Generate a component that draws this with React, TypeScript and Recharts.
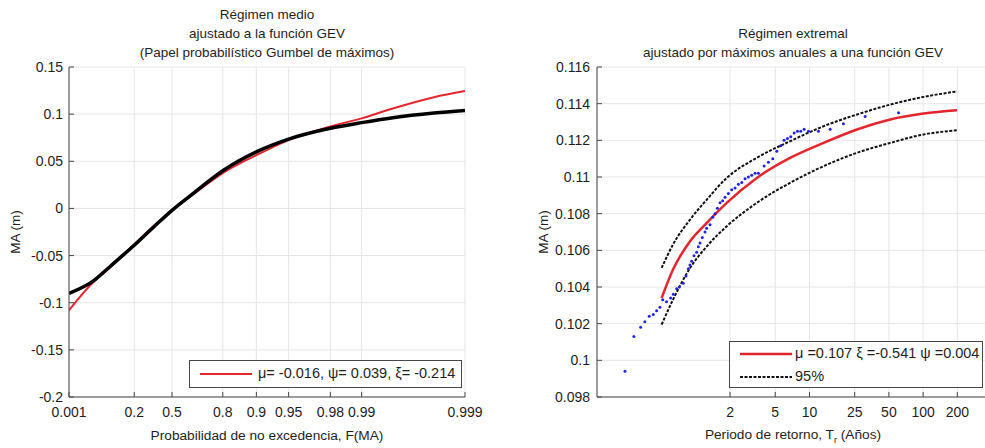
import React from 'react';
import { ComposedChart, Line, Scatter, XAxis, YAxis, CartesianGrid, Legend, Label } from 'recharts';

const FONT = '"Liberation Sans", Arial, Helvetica, sans-serif';
const AXIS = '#474747';
const GRID = '#e6e6e6';
const TEXT = '#1e1e1e';
const RED = '#e3262d';
const BLUE = '#2323e6';

// Régimen medio (papel probabilístico Gumbel)
const probTickLabels = ['0.001', '0.2', '0.5', '0.8', '0.9', '0.95', '0.98', '0.99', '0.999'];
const probF = [0.001, 0.02, 0.05, 0.1, 0.2, 0.35, 0.5, 0.65, 0.8, 0.9, 0.95, 0.98, 0.99, 0.995, 0.998, 0.999];
const empiricalMA = [-0.09, -0.076, -0.065, -0.054, -0.039, -0.02, -0.002, 0.016, 0.04, 0.06, 0.0735, 0.085, 0.091, 0.0962, 0.1012, 0.104];
const gevMA = [-0.108, -0.077, -0.066, -0.054, -0.038, -0.019, -0.002, 0.015, 0.0375, 0.0565, 0.0725, 0.087, 0.0955, 0.106, 0.118, 0.1245];
const medioYTicks = [-0.2, -0.15, -0.1, -0.05, 0, 0.05, 0.1, 0.15];

// Régimen extremal (máximos anuales)
const returnPeriodTicks = [2, 5, 10, 25, 50, 100, 200];
const fitT = [0.5, 0.63, 0.89, 1.25, 1.87, 3.44, 6.75, 13.3, 26.2, 51.4, 101, 199];
const fitMA = [0.1034, 0.10495, 0.1065, 0.1075, 0.10859, 0.10995, 0.11104, 0.11186, 0.11259, 0.11314, 0.11346, 0.11364];
const upperMA = [0.10504, 0.10632, 0.10768, 0.10877, 0.10995, 0.11105, 0.11195, 0.11277, 0.11341, 0.11395, 0.11437, 0.11467];
const lowerMA = [0.10195, 0.10331, 0.10504, 0.10622, 0.10731, 0.10859, 0.10968, 0.11059, 0.11132, 0.11186, 0.11232, 0.11255];
const sampleT = [
  0.238, 0.285, 0.327, 0.356, 0.389, 0.422, 0.452, 0.483, 0.511, 0.553, 0.6, 0.633, 0.678, 0.715, 0.776,
  0.819, 0.859, 0.888, 0.919, 0.963, 1.017, 1.052, 1.088, 1.141, 1.204, 1.245, 1.333, 1.407, 1.475, 1.547,
  1.633, 1.723, 1.807, 1.933, 2.069, 2.214, 2.368, 2.534, 2.712, 2.901, 3.104, 3.321, 3.553, 3.988, 4.354,
  4.753, 5.155, 5.59, 5.981, 6.399, 6.846, 7.326, 7.841, 8.386, 8.974, 9.8, 12, 15.2, 19.9, 30.9, 60.8,
];
const sampleMA = [
  0.0994, 0.1013, 0.1018, 0.1021, 0.1024, 0.1025, 0.1027, 0.1029, 0.1033, 0.1032, 0.1034, 0.1036, 0.1039, 0.104, 0.1042,
  0.1046, 0.105, 0.1052, 0.1054, 0.1057, 0.1059, 0.1062, 0.1064, 0.1067, 0.107, 0.1072, 0.1074, 0.1078, 0.108, 0.1083,
  0.1086, 0.1087, 0.1089, 0.1091, 0.1093, 0.1094, 0.1096, 0.1097, 0.1099, 0.11, 0.1101, 0.1102, 0.1102, 0.1106, 0.1108,
  0.111, 0.1114, 0.1117, 0.112, 0.1121, 0.1122, 0.1124, 0.1125, 0.1125, 0.1126, 0.1125, 0.1125, 0.1126, 0.1129, 0.1133, 0.1135,
];
const extremalYTicks = [0.098, 0.1, 0.102, 0.104, 0.106, 0.108, 0.11, 0.112, 0.114, 0.116];

const gumbel = (F: number) => -Math.log(-Math.log(F));
const fmt = (v: number) => String(Number(v.toFixed(3)));

const probTicks = probTickLabels.map((s) => gumbel(parseFloat(s)));
const medioEmp = probF.map((F, i) => ({ g: gumbel(F), ma: empiricalMA[i] }));
const medioGev = probF.map((F, i) => ({ g: gumbel(F), ma: gevMA[i] }));

const fitData = fitT.map((T, i) => ({ T, ma: fitMA[i] }));
const upperData = fitT.map((T, i) => ({ T, ma: upperMA[i] }));
const lowerData = fitT.map((T, i) => ({ T, ma: lowerMA[i] }));
const sampleData = sampleT.map((T, i) => ({ T, ma: sampleMA[i] }));

const tickStyle = { fill: TEXT, fontSize: 14 };

const MedioLegend = () => (
  <div style={{ position: 'relative', width: 273, height: 28, boxSizing: 'border-box', border: `1px solid ${AXIS}`, background: '#fff', fontSize: 14.5, color: TEXT }}>
    <svg width={70} height={26} style={{ position: 'absolute', left: 0, top: 0 }}>
      <line x1={10} x2={62} y1={13} y2={13} stroke={RED} strokeWidth={2} />
    </svg>
    <span style={{ position: 'absolute', left: 68, top: 4, whiteSpace: 'nowrap' }}>μ= -0.016, ψ= 0.039, ξ= -0.214</span>
  </div>
);

const ExtremalLegend = () => (
  <div style={{ position: 'relative', width: 254, height: 47, boxSizing: 'border-box', border: `1px solid ${AXIS}`, background: '#fff', fontSize: 14.5, color: TEXT }}>
    <svg width={70} height={45} style={{ position: 'absolute', left: 0, top: 0 }}>
      <line x1={10} x2={62} y1={12} y2={12} stroke={RED} strokeWidth={2.5} />
      <line x1={10} x2={62} y1={35} y2={35} stroke="#111" strokeWidth={2} strokeDasharray="3 1.5" />
    </svg>
    <span style={{ position: 'absolute', left: 65, top: 3, whiteSpace: 'nowrap' }}>μ =0.107 ξ =-0.541 ψ =0.004</span>
    <span style={{ position: 'absolute', left: 65, top: 26, whiteSpace: 'nowrap' }}>95%</span>
  </div>
);

const MedioChart = () => (
  <ComposedChart width={490} height={448} margin={{ top: 67, right: 25, bottom: 0, left: 0 }}>
    <CartesianGrid stroke={GRID} />
    <XAxis
      type="number"
      dataKey="g"
      domain={[probTicks[0], probTicks[probTicks.length - 1]]}
      allowDataOverflow
      ticks={probTicks}
      interval={0}
      tickFormatter={(_v: number, i: number) => probTickLabels[i]}
      height={51}
      stroke={AXIS}
      tickSize={-5}
      tickMargin={15}
      tick={tickStyle}
    >
      <Label value="Probabilidad de no excedencia, F(MA)" position="insideBottom" offset={8} fill={TEXT} fontSize={13.7} />
    </XAxis>
    <XAxis xAxisId="top" orientation="top" type="number" domain={[probTicks[0], probTicks[probTicks.length - 1]]} allowDataOverflow ticks={probTicks} interval={0} height={0} stroke={AXIS} tickSize={-5} tick={false} />
    <YAxis
      type="number"
      dataKey="ma"
      domain={[-0.2, 0.15]}
      ticks={medioYTicks}
      interval={0}
      tickFormatter={fmt}
      width={69}
      stroke={AXIS}
      tickSize={-5}
      tickMargin={11}
      tick={tickStyle}
    >
      <Label value="MA (m)" angle={-90} position="insideLeft" offset={15} fill={TEXT} fontSize={13.5} style={{ textAnchor: 'middle' }} />
    </YAxis>
    <YAxis yAxisId="right" orientation="right" type="number" domain={[-0.2, 0.15]} ticks={medioYTicks} interval={0} width={0} stroke={AXIS} tickSize={-5} tick={false} />
    <Line data={medioGev} dataKey="ma" type="monotone" stroke={RED} strokeWidth={2} dot={false} isAnimationActive={false} />
    <Line data={medioEmp} dataKey="ma" type="monotone" stroke="#000" strokeWidth={3.5} dot={false} isAnimationActive={false} />
    <Legend verticalAlign="middle" align="center" layout="horizontal" wrapperStyle={{ left: 189, top: 360, width: 273 }} content={() => <MedioLegend />} />
  </ComposedChart>
);

const ExtremalXLabel = (props: any) => {
  const { x, y, width } = props.viewBox;
  return (
    <text x={x + width / 2} y={y + 42} textAnchor="middle" fill={TEXT} fontSize={13.7}>
      Periodo de retorno, T
      <tspan dy={4} fontSize={9}>r</tspan>
      <tspan dy={-4}> (Años)</tspan>
    </text>
  );
};

const ExtremalChart = () => (
  <ComposedChart width={499} height={448} margin={{ top: 67, right: 0, bottom: 0, left: 0 }}>
    <CartesianGrid stroke={GRID} />
    <XAxis
      type="number"
      dataKey="T"
      scale="log"
      domain={[0.135, 380]}
      allowDataOverflow
      ticks={returnPeriodTicks}
      interval={0}
      height={51}
      stroke={AXIS}
      tickSize={-5}
      tickMargin={15}
      tick={tickStyle}
    >
      <Label content={<ExtremalXLabel />} />
    </XAxis>
    <XAxis xAxisId="top" orientation="top" type="number" scale="log" domain={[0.135, 380]} allowDataOverflow ticks={returnPeriodTicks} interval={0} height={0} stroke={AXIS} tickSize={-5} tick={false} />
    <YAxis
      type="number"
      dataKey="ma"
      domain={[0.098, 0.116]}
      allowDataOverflow
      ticks={extremalYTicks}
      interval={0}
      tickFormatter={fmt}
      width={107}
      stroke={AXIS}
      tickSize={-5}
      tickMargin={12}
      tick={tickStyle}
    >
      <Label value="MA (m)" angle={-90} position="insideLeft" offset={53} fill={TEXT} fontSize={13.5} style={{ textAnchor: 'middle' }} />
    </YAxis>
    <Line data={upperData} dataKey="ma" type="monotone" stroke="#111" strokeWidth={2} strokeDasharray="3 1.5" dot={false} isAnimationActive={false} />
    <Line data={lowerData} dataKey="ma" type="monotone" stroke="#111" strokeWidth={2} strokeDasharray="3 1.5" dot={false} isAnimationActive={false} />
    <Line data={fitData} dataKey="ma" type="monotone" stroke={RED} strokeWidth={2.5} dot={false} isAnimationActive={false} />
    <Scatter
      data={sampleData}
      dataKey="ma"
      isAnimationActive={false}
      shape={(p: any) => <circle cx={p.cx} cy={p.cy} r={1.5} fill={BLUE} />}
    />
    <Legend verticalAlign="middle" align="center" layout="horizontal" wrapperStyle={{ left: 239, top: 341, width: 254 }} content={() => <ExtremalLegend />} />
  </ComposedChart>
);

export default function App() {
  return (
    <div style={{ position: 'relative', width: 985, height: 448, overflow: 'hidden', background: '#fff', fontFamily: FONT, color: TEXT }}>
      <style>{'body{margin:0;}'}</style>
      <div style={{ position: 'absolute', left: 0, top: 0 }}>
        <MedioChart />
      </div>
      <div style={{ position: 'absolute', left: 490, top: 0 }}>
        <ExtremalChart />
      </div>
      <div style={{ position: 'absolute', left: 69, top: 5, width: 396, textAlign: 'center', fontSize: 13.5, lineHeight: '19px' }}>
        <div>Régimen medio</div>
        <div>ajustado a la función GEV</div>
        <div>(Papel probabilístico Gumbel de máximos)</div>
      </div>
      <div style={{ position: 'absolute', left: 597, top: 24, width: 392, textAlign: 'center', fontSize: 13.5, lineHeight: '19px' }}>
        <div>Régimen extremal</div>
        <div>ajustado por máximos anuales a una función GEV</div>
      </div>
    </div>
  );
}
